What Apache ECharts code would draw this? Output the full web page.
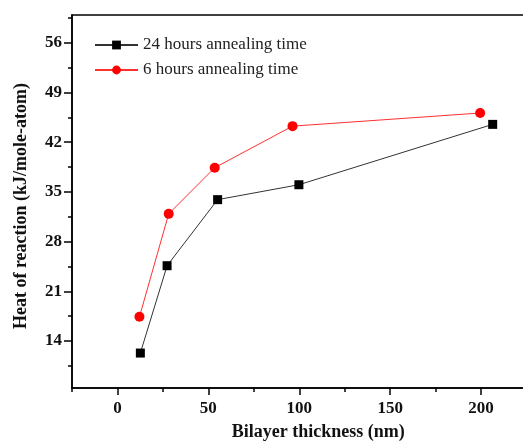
<!DOCTYPE html>
<html>
<head>
<meta charset="utf-8">
<script src="https://cdn.jsdelivr.net/npm/echarts@6/dist/echarts.min.js"></script>
<style>
html,body{margin:0;padding:0;overflow:hidden;background:#fff;}
#c{width:530px;height:441px;}
</style>
</head>
<body>
<div id="c"></div>
<script>
// Data
const seriesNames = ['24 hours annealing time', '6 hours annealing time'];
const thickness24 = [12.6, 27.3, 55.1, 99.8, 206.4];
const heat24 = [12.3, 24.6, 33.9, 36.0, 44.5];
const thickness6 = [12.1, 28.2, 53.5, 96.3, 199.5];
const heat6 = [17.4, 31.9, 38.4, 44.25, 46.1];
const xTickLabels = [0, 50, 100, 150, 200];
const xMinorTicks = [-25, 25, 75, 125, 175, 225];
const yTickLabels = [14, 21, 28, 35, 42, 49, 56];
const yMinorTicks = [10.5, 17.5, 24.5, 31.5, 38.5, 45.5, 52.5, 59.5];

const FONT = '"Liberation Serif", "DejaVu Serif", serif';
const chart = echarts.init(document.getElementById('c'), null, {renderer: 'canvas'});

function pairs(xs, ys) { return xs.map((x, i) => [x, ys[i]]); }

const axisLineStyle = {color: '#000', width: 1.5};

chart.setOption({
  animation: false,
  backgroundColor: '#fff',
  grid: {
    left: 72, top: 15, width: 454.5, height: 373,
    show: true, borderColor: '#000', borderWidth: 1.5, backgroundColor: 'transparent',
    containLabel: false, outerBoundsMode: 'none'
  },
  legend: {
    orient: 'vertical', left: 94, top: 36.5, padding: 0,
    itemWidth: 43, itemHeight: 11, itemGap: 8,
    textStyle: {fontFamily: FONT, fontSize: 17, lineHeight: 17, color: '#222'},
    data: seriesNames
  },
  xAxis: [{
    type: 'value', min: -25, max: 225, position: 'bottom',
    axisLine: {show: true, onZero: false, lineStyle: axisLineStyle},
    axisTick: {show: true, inside: false, length: 7, customValues: xTickLabels, lineStyle: axisLineStyle},
    axisLabel: {customValues: xTickLabels, margin: 12, fontFamily: FONT, fontSize: 17, fontWeight: 'bold', color: '#111'},
    splitLine: {show: false},
    name: 'Bilayer thickness (nm)', nameLocation: 'middle', nameGap: 35,
    nameTextStyle: {fontFamily: FONT, fontSize: 18, fontWeight: 'bold', color: '#111', padding: [0, 0, 0, 38]}
  }, {
    type: 'value', min: -25, max: 225, position: 'bottom', offset: 0,
    axisLine: {show: false, onZero: false},
    axisTick: {show: true, inside: false, length: 4, customValues: xMinorTicks, lineStyle: axisLineStyle},
    axisLabel: {show: false},
    splitLine: {show: false}
  }],
  yAxis: [{
    type: 'value', min: 7.38, max: 59.9, position: 'left',
    axisLine: {show: true, onZero: false, lineStyle: axisLineStyle},
    axisTick: {show: true, inside: false, length: 8, customValues: yTickLabels, lineStyle: axisLineStyle},
    axisLabel: {customValues: yTickLabels, margin: 10, fontFamily: FONT, fontSize: 17, fontWeight: 'bold', color: '#111'},
    splitLine: {show: false},
    name: 'Heat of reaction (kJ/mole-atom)', nameLocation: 'middle', nameGap: 42,
    nameTextStyle: {fontFamily: FONT, fontSize: 18, fontWeight: 'bold', color: '#111', padding: [0, 9, 0, 0]}
  }, {
    type: 'value', min: 7.38, max: 59.9, position: 'left', offset: 0,
    axisLine: {show: false, onZero: false},
    axisTick: {show: true, inside: false, length: 4, customValues: yMinorTicks, lineStyle: axisLineStyle},
    axisLabel: {show: false},
    splitLine: {show: false}
  }],
  series: [{
    name: seriesNames[0], type: 'line', xAxisIndex: 0, yAxisIndex: 0,
    data: pairs(thickness24, heat24),
    symbol: 'rect', symbolSize: 9,
    lineStyle: {color: '#333', width: 1},
    itemStyle: {color: '#000'}
  }, {
    name: seriesNames[1], type: 'line', xAxisIndex: 0, yAxisIndex: 0,
    data: pairs(thickness6, heat6),
    symbol: 'circle', symbolSize: 10,
    lineStyle: {color: '#ff3030', width: 1},
    itemStyle: {color: '#ff0000'}
  }]
});
</script>
</body>
</html>
